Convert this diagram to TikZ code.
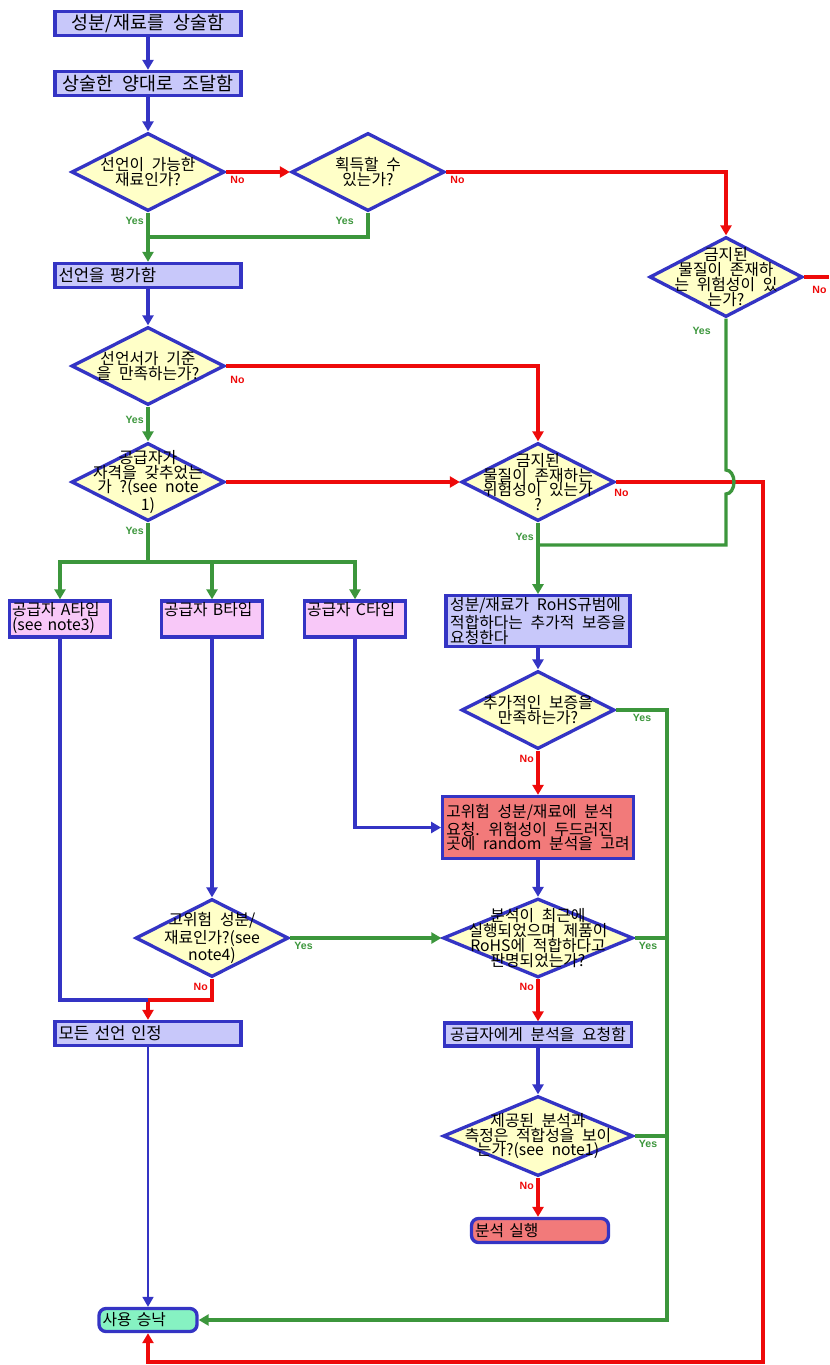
\documentclass[tikz,border=0pt]{standalone}
\usepackage{fontspec}
\usepackage{tikz}
\usepackage{xcolor}
\usetikzlibrary{shapes.geometric, arrows.meta, calc}
\setmainfont{Noto Sans CJK KR}[WordSpace=2.2]
\newfontfamily\tagfont{Liberation Sans}
\newcommand{\flowfont}{\fontsize{9}{8.4}\selectfont}
\definecolor{FlowBlue}{HTML}{3434C4}
\definecolor{FlowRed}{HTML}{EE0A0A}
\definecolor{FlowGreen}{HTML}{3C963C}
\definecolor{FillBlue}{HTML}{C8C8FA}
\definecolor{FillPink}{HTML}{F8C8F8}
\definecolor{FillSalmon}{HTML}{F27A7A}
\definecolor{FillMint}{HTML}{86F2C2}
\definecolor{FillYellow}{HTML}{FFFFC8}
\tikzset{
    % Step boxes, text set from the left
    process/.style={
        rectangle,
        draw=FlowBlue,
        fill=FillBlue,
        line width=1.9pt,
        inner xsep=2pt,
        inner ysep=1pt,
        align=left,
        font=\flowfont
    },
    process pink/.style={
        process,
        fill=FillPink,
        inner xsep=1pt,
        minimum width=2.02cm,
        text width=1.92cm,
        text height=7.5pt,
        text depth=11pt
    },
    process salmon/.style={
        process,
        fill=FillSalmon
    },
    terminal/.style={
        process,
        rounded corners=4pt
    },
    % Questions; negative inner sep lets the text run up to the edges
    decision/.style={
        diamond,
        draw=FlowBlue,
        fill=FillYellow,
        line width=1.9pt,
        inner sep=-1cm,
        minimum width=3.06cm,
        minimum height=1.56cm,
        align=center,
        font=\flowfont
    },
    blue line/.style={
        FlowBlue,
        line width=1.9pt
    },
    red line/.style={
        FlowRed,
        line width=1.9pt
    },
    green line/.style={
        FlowGreen,
        line width=1.9pt
    },
    blue arrow/.style={
        blue line,
        -{Triangle[length=0.2cm, width=0.22cm]}
    },
    red arrow/.style={
        red line,
        -{Triangle[length=0.2cm, width=0.22cm]}
    },
    green arrow/.style={
        green line,
        -{Triangle[length=0.2cm, width=0.22cm]}
    },
    yes tag/.style={
        font=\tagfont\bfseries\fontsize{6}{6}\selectfont,
        text=FlowGreen,
        inner sep=1.5pt
    },
    no tag/.style={
        yes tag,
        text=FlowRed
    }
}

\begin{document}
\begin{tikzpicture}[x=0.02cm, y=-0.02cm]
    \useasboundingbox (0,0) rectangle (829,1365);

    % Declaration route
    \node[process, align=center, font=\fontsize{10.5}{10}\selectfont, minimum width=3.72cm, minimum height=0.48cm] (specify) at (148,23.5) {성분/재료를 상술함};
    \node[process, align=center, font=\fontsize{10.5}{10}\selectfont, minimum width=3.72cm, minimum height=0.48cm] (procure) at (148,83.5) {상술한 양대로 조달함};
    \node[decision] (declarable) at (148,172) {선언이 가능한\\재료인가?};
    \node[decision] (obtainable) at (368,172) {획득할 수\\있는가?};
    \node[decision, minimum height=1.6cm] (riskTop) at (726,277) {금지된\\물질이 존재하\\는 위험성이 있\\는가?};
    \node[process, font=\fontsize{9.5}{9}\selectfont, minimum width=3.72cm, minimum height=0.48cm, text width=3.58cm] (evaluate) at (148,275.5) {선언을 평가함};
    \node[decision] (meets) at (148,366) {선언서가 기준\\을 만족하는가?};
    \node[decision] (qualified) at (148,482) {공급자가\\자격을 갖추었는\\가 ?(see note\\1)};
    \node[decision] (riskMid) at (538,482) {금지된\\물질이 존재하는\\위험성이 있는가\\?};

    % Supplier types
    \node[process pink] (typeA) at (60,619) {공급자 A타입\\(see note3)};
    \node[process pink] (typeB) at (212,619) {공급자 B타입};
    \node[process pink] (typeC) at (355,619) {공급자 C타입};

    % Assurance and analysis route
    \node[process, minimum width=3.68cm, minimum height=0.98cm] (assure) at (538,621) {성분/재료가 RoHS규범에\\적합하다는 추가적 보증을\\요청한다};
    \node[decision] (assured) at (538,710) {추가적인 보증을\\만족하는가?};
    \node[process salmon, minimum width=3.74cm, minimum height=1.24cm] (sample) at (538,827.5) {고위험 성분/재료에 분석\\요청. 위험성이 두드러진\\곳에 random 분석을 고려};
    \node[decision] (highRisk) at (212,938) {고위험 성분/\\재료인가?(see\\note4)};
    \node[decision, minimum width=3.8cm, minimum height=1.58cm] (recent) at (538,938) {분석이 최근에\\실행되었으며 제품이\\RoHS에 적합하다고\\판명되었는가?};
    \node[process, font=\fontsize{9.5}{9}\selectfont, minimum width=3.72cm, minimum height=0.48cm, text width=3.58cm] (acceptAll) at (148,1033.5) {모든 선언 인정};
    \node[process, minimum width=3.74cm, minimum height=0.46cm] (askSupplier) at (538,1034.5) {공급자에게 분석을 요청함};
    \node[decision, minimum width=3.8cm, minimum height=1.6cm] (provided) at (538,1136) {제공된 분석과\\측정은 적합성을 보이\\는가?(see note1)};
    \node[terminal, fill=FillSalmon, minimum width=2.74cm, minimum height=0.48cm, text width=2.6cm] (runTest) at (540,1230.5) {분석 실행};
    \node[terminal, fill=FillMint, minimum width=1.96cm, minimum height=0.46cm, text width=1.82cm] (approve) at (148,1320) {사용 승낙};

    % Junctions and turning points
    \coordinate (offRight) at (829,277);
    \coordinate (joinTop) at (148,237);
    \coordinate (joinMid) at (538,545);
    \coordinate (split) at (148,562);
    \coordinate (merge) at (148,1000);
    \coordinate (greenTurn) at (667,1320);
    \coordinate (redTurn) at (763,1362);

    % Top part
    \draw[blue arrow] (specify) -- (procure);
    \draw[blue arrow] (procure) -- (declarable);
    \draw[red arrow] (declarable) -- node[no tag, at start, below right] {No} (obtainable);
    \draw[red arrow] (obtainable.east) -| node[no tag, at start, below right] {No} (riskTop.north);
    \draw[red line] (riskTop.east) -- node[no tag, at start, below right, xshift=0.08cm, yshift=-0.1cm] {No} (offRight);
    \draw[green arrow] (declarable) -- node[yes tag, at start, below left] {Yes} (evaluate);
    \draw[green line] (obtainable.south) |- node[yes tag, at start, below left, xshift=-0.2cm] {Yes} (joinTop);
    \draw[blue arrow] (evaluate) -- (meets);
    \draw[red arrow] (meets.east) -| node[no tag, at start, below right, yshift=-0.12cm] {No} (riskMid.north);
    \draw[green arrow] (meets) -- node[yes tag, at start, below left, yshift=-0.1cm] {Yes} (qualified);
    \draw[red arrow] (qualified) -- (riskMid);

    % Banned substance checks
    \draw[red arrow] (riskMid.east) -- node[no tag, at start, below right, xshift=-0.12cm, yshift=-0.05cm] {No} (riskMid.east -| redTurn) -- (redTurn) -| (approve.south);
    \draw[green line] (riskTop.south) -- node[yes tag, at start, below left, xshift=-0.22cm, yshift=-0.08cm] {Yes} ($(riskTop.south |- riskMid.east)+(0,-12)$)
        arc[start angle=-90, end angle=90, x radius=8, y radius=12] |- (joinMid);
    \draw[green arrow] (riskMid) -- node[yes tag, at start, below left, yshift=-0.12cm] {Yes} (assure);

    % Split by supplier type
    \draw[green line] (qualified) -- node[yes tag, at start, below left] {Yes} (split);
    \draw[green arrow] (split) -| (typeA.north);
    \draw[green arrow] (split) -| (typeB.north);
    \draw[green arrow] (split) -| (typeC.north);

    % Right column
    \draw[blue arrow] (assure) -- (assured);
    \draw[red arrow] (assured) -- node[no tag, at start, below left] {No} (sample);
    \draw[green arrow] (assured.east) -| node[yes tag, at start, below right, xshift=0.25cm] {Yes} (greenTurn) -- (approve.east);
    \draw[blue arrow] (typeC.south) |- (sample.west);
    \draw[blue arrow] (sample) -- (recent);
    \draw[green line] (recent.east) -- node[yes tag, at start, below right] {Yes} (recent.east -| greenTurn);
    \draw[red arrow] (recent) -- node[no tag, at start, below left] {No} (askSupplier);
    \draw[blue arrow] (askSupplier) -- (provided);
    \draw[green line] (provided.east) -- node[yes tag, at start, below right] {Yes} (provided.east -| greenTurn);
    \draw[red arrow] (provided.south) -- node[no tag, at start, below left] {No} (provided.south |- runTest.north);

    % Left column
    \draw[blue arrow] (typeB) -- (highRisk);
    \draw[green arrow] (highRisk) -- node[yes tag, at start, below right] {Yes} (recent);
    \draw[red arrow] (highRisk.south) |- node[no tag, at start, below left] {No} (merge) -- (acceptAll.north);
    \draw[blue line] (typeA.south) |- (merge);
    \draw[blue arrow, line width=1pt] (acceptAll) -- (approve);
\end{tikzpicture}
\end{document}
